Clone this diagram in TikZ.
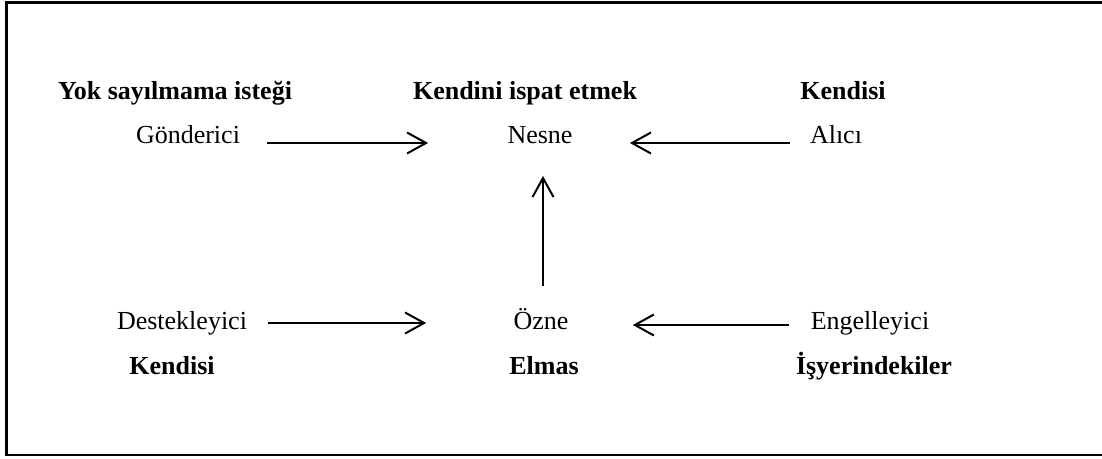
\documentclass[tikz,border=0pt]{standalone}
\usepackage{fontspec}
\setmainfont{Liberation Serif}
\usetikzlibrary{arrows.meta,calc}
\tikzset{
  lbl/.style={inner sep=0pt, anchor=base, font=\fontsize{13}{15}\selectfont},
  hd/.style={lbl, font=\fontsize{13}{15}\selectfont\bfseries},
  arr/.style={line width=1pt, -{Straight Barb[length=9.5pt,width=10.5pt,line width=1pt]}},
  frame/.style={line width=1.3pt}
}
\begin{document}
\begin{tikzpicture}[x=0.5pt,y=-0.5pt]
\useasboundingbox (0,0) rectangle (1102,459);
\draw[frame] (1110,2.5) -- (6.5,2.5) -- (6.5,455) -- (1110,455);
% headings top
\node[hd] (h1) at (175,100) {Yok sayılmama isteği};
\node[hd] (h2) at (525,100) {Kendini ispat etmek};
\node[hd] (h3) at (843,100) {Kendisi};
% top row
\node[lbl] (gon) at (188,144) {Gönderici};
\node[lbl] (nes) at (540,144) {Nesne};
\node[lbl] (ali) at (836,144) {Alıcı};
% bottom row
\node[lbl] (des) at (182,329) {Destekleyici};
\node[lbl] (ozn) at (541,329) {Özne};
\node[lbl] (eng) at (870,329) {Engelleyici};
% headings bottom
\node[hd] (b1) at (172,375) {Kendisi};
\node[hd] (b2) at (544,375) {Elmas};
\node[hd] (b3) at (874,375) {İşyerindekiler};
% arrows
\draw[arr] ($(gon.base east)+(27,-1)$) -- ($(nes.base west)+(-79,-1)$);
\draw[arr] ($(ali.base west)+(-20,-1)$) -- ($(nes.base east)+(57,-1)$);
\draw[arr] ($(ozn.base)+(2,-43)$) -- ($(nes.base)+(3,32)$);
\draw[arr] ($(des.base east)+(21,-6)$) -- ($(ozn.base west)+(-87,-6)$);
\draw[arr] ($(eng.base west)+(-21,-4)$) -- ($(ozn.base east)+(64,-4)$);
\end{tikzpicture}
\end{document}
